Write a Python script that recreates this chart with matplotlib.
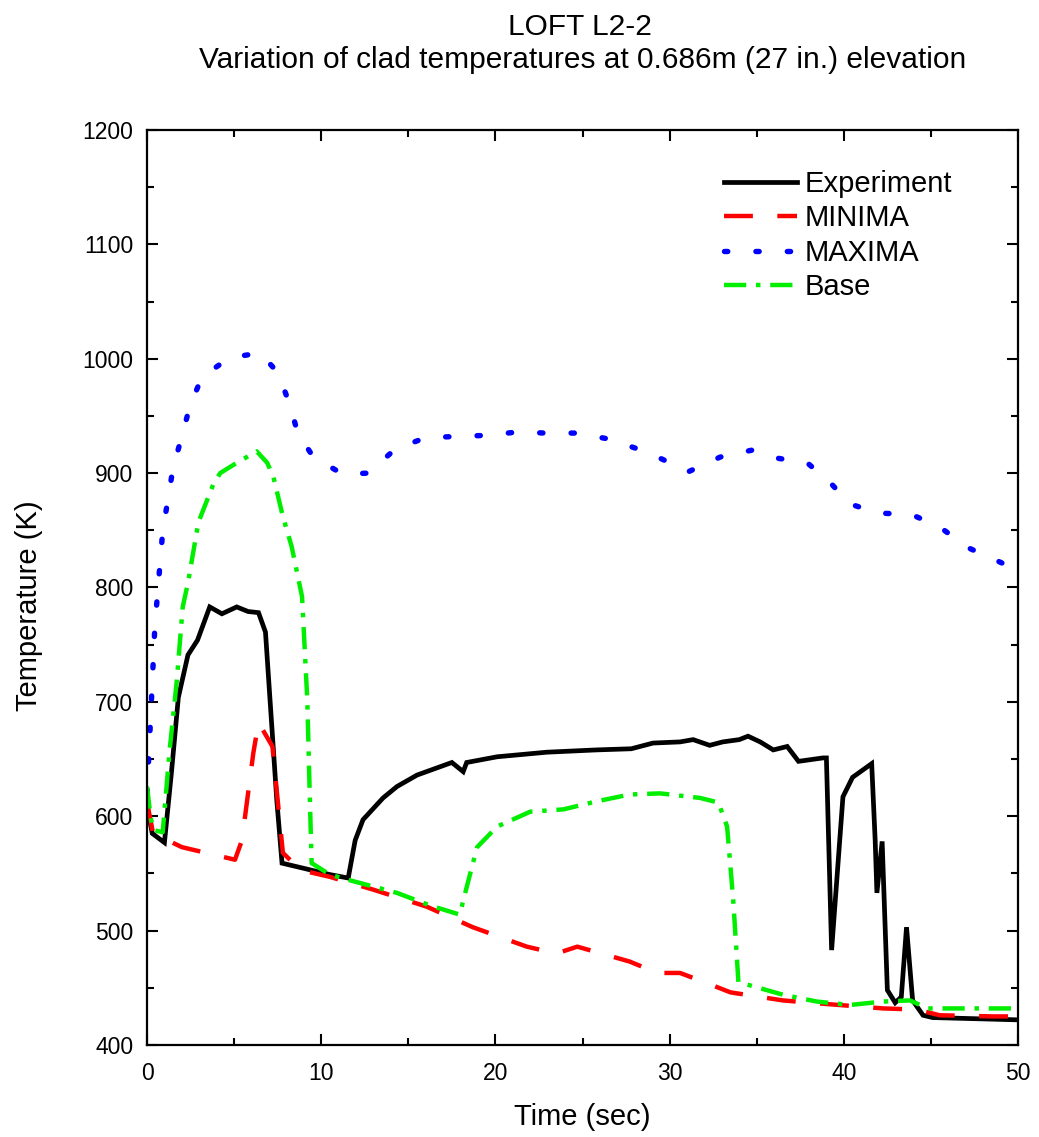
import matplotlib
matplotlib.use("Agg")
import matplotlib.pyplot as plt
from matplotlib.ticker import MultipleLocator

plt.rcParams['font.family'] = ['Liberation Sans', 'DejaVu Sans']

exp_t = [0.0, 0.05, 0.3, 1.0, 1.4, 1.8, 2.35, 2.9, 3.6, 4.3, 5.15, 5.8, 6.4, 6.8, 7.06, 7.45, 7.75,
         10.5, 11.55, 11.95, 12.4, 13.55, 14.35, 15.5, 17.5, 18.15, 18.35, 20.1, 22.95, 25.8, 27.8,
         29.05, 30.6, 31.35, 32.3, 33.05, 34.0, 34.5, 35.2, 35.95, 36.75, 37.4, 38.8, 39.0, 39.3,
         39.95, 40.5, 41.6, 41.8, 41.9, 42.2, 42.5, 42.95, 43.3, 43.6, 43.95, 44.55, 45.1, 50.0]
exp_T = [620, 605, 585, 577, 638, 704, 741, 754, 783, 777, 783, 779, 778, 761, 702, 614, 559,
         549, 546, 579, 597, 616, 626, 636, 647, 639, 647, 652, 656, 658, 659,
         664, 665, 667, 662, 665, 667, 670, 665, 658, 661, 648, 651, 651, 483,
         617, 634, 646, 579, 533, 578, 448, 437, 442, 503, 439, 426, 424, 422]

min_t = [0.0, 0.35, 2.0, 5.05, 5.45, 6.1, 6.4, 7.2, 7.5, 7.8, 8.8, 10.5, 12.95, 16.05, 18.7,
         21.8, 23.5, 24.7, 27.7, 29.3, 30.6, 32.15, 33.5, 36.5, 38.05, 42.25, 44.2, 45.5, 48.6, 50.0]
min_T = [612, 585, 573, 562, 579, 655, 682, 661, 614, 568, 553, 547, 536, 521, 503,
         486, 480, 486, 473, 463, 463, 454, 446, 439, 437, 432, 431, 426, 425, 425]

max_t = [0.0, 0.1, 0.25, 0.45, 0.9, 1.2, 1.5, 2.0, 2.45, 3.15, 4.75, 6.5, 7.5, 8.2, 8.65, 9.55,
         11.25, 12.7, 14.25, 16.0, 17.7, 19.5, 21.3, 22.85, 24.55, 26.45, 28.2, 29.6, 31.05,
         32.9, 34.7, 36.2, 37.9, 39.2, 40.35, 42.0, 43.85, 45.5, 47.1, 48.85, 50.0]
max_T = [620, 652, 700, 766, 849, 877, 905, 932, 958, 984, 1001, 1005, 988, 960, 935, 914,
         899, 900, 921, 931, 932, 933, 936, 935, 935, 930, 921, 912, 901,
         914, 920, 913, 909, 892, 873, 865, 864, 853, 835, 823, 815]

base_t = [0.0, 0.2, 0.35, 0.9, 1.3, 1.7, 2.05, 2.35, 2.95, 3.8, 4.2, 5.15, 6.3, 6.9, 7.25, 7.8,
          8.3, 8.9, 9.2, 9.35, 9.45, 10.5, 11.65, 14.35, 16.25, 17.95, 18.35, 18.95, 20.1, 22.0,
          23.9, 25.8, 27.7, 29.45, 31.75, 32.8, 33.3, 33.65, 33.95, 36.5, 38.45, 40.35, 42.25,
          43.8, 44.8, 47.1, 50.0]
base_T = [626, 600, 588, 586, 658, 717, 783, 804, 857, 890, 900, 909, 919, 909, 897, 862,
          836, 792, 702, 614, 559, 549, 544, 533, 522, 514, 538, 573, 591, 604,
          606, 613, 619, 620, 616, 612, 591, 527, 455, 444, 438, 435, 438,
          439, 432, 432, 432]

labels = ['Experiment', 'MINIMA', 'MAXIMA', 'Base']
title_lines = ['LOFT L2-2', 'Variation of clad temperatures at 0.686m (27 in.) elevation']

fig = plt.figure(figsize=(10.39, 11.37), dpi=100)
ax = fig.add_axes([0.1415, 0.0809, 0.8383, 0.8048])

ax.plot(exp_t, exp_T, color='black', lw=3.4, solid_joinstyle='miter', label=labels[0])
ax.plot(min_t, min_T, color='#ff0000', lw=3.2, dashes=(6.5, 5.5), label=labels[1])
ax.plot(max_t, max_T, color='#0000ff', lw=3.9, dashes=(0.6, 5.2), dash_capstyle='round', label=labels[2])
ax.plot(base_t, base_T, color='#00ee00', lw=3.2, dashes=(5, 2.2, 1, 2.2), label=labels[3])

ax.set_xlim(0, 50)
ax.set_ylim(400, 1200)
ax.xaxis.set_major_locator(MultipleLocator(10))
ax.xaxis.set_minor_locator(MultipleLocator(5))
ax.yaxis.set_major_locator(MultipleLocator(100))
ax.yaxis.set_minor_locator(MultipleLocator(50))
ax.tick_params(which='both', direction='in', top=True, right=True, labelsize=16.5, width=1.5)
ax.tick_params(which='major', length=8)
ax.tick_params(which='minor', length=5)
ax.tick_params(axis='x', which='major', pad=12)
ax.tick_params(axis='y', which='major', pad=10)
for s in ax.spines.values():
    s.set_linewidth(1.6)

ax.set_xlabel('Time (sec)', fontsize=21, labelpad=13)
ax.set_ylabel('Temperature (K)', fontsize=21, labelpad=28)
ax.yaxis.label.set_y(0.48)

fig.text(0.558, 1 - 27 / 1137, title_lines[0], ha='center', va='center', fontsize=21.5)
fig.text(0.561, 1 - 60 / 1137, title_lines[1], ha='center', va='center', fontsize=21.5)

leg = ax.legend(loc='upper right', bbox_to_anchor=(0.955, 0.985), frameon=False, fontsize=21,
                handlelength=2.5, handletextpad=0.28, labelspacing=0.22)

fig.savefig('out.png', dpi=100)
